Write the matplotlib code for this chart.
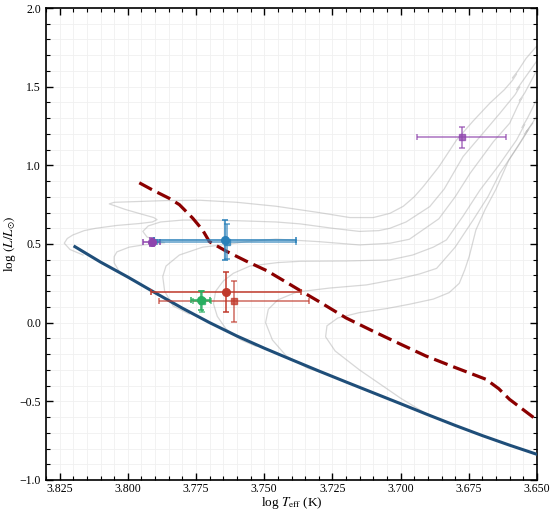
import matplotlib
matplotlib.use("Agg")
import matplotlib.pyplot as plt
from matplotlib.ticker import MultipleLocator

plt.rcParams["font.family"] = "serif"
plt.rcParams["font.serif"] = ["Liberation Serif", "DejaVu Serif"]
plt.rcParams["mathtext.fontset"] = "stix"

# evolutionary tracks (light grey)
track_a_x = [3.8164, 3.8212, 3.8233, 3.8222, 3.8202, 3.8160, 3.8117, 3.8040, 3.7958, 3.7910,
             3.7893, 3.7905, 3.7950, 3.8010, 3.8068, 3.8050, 3.7980, 3.7860, 3.7735, 3.7600,
             3.7457, 3.7300, 3.7186, 3.7100, 3.7039, 3.6990, 3.6950, 3.6917, 3.6860, 3.6795,
             3.6735, 3.6673, 3.6620, 3.6590, 3.6575, 3.6590, 3.6570, 3.6540, 3.6502]
track_a_y = [0.430, 0.465, 0.505, 0.535, 0.557, 0.585, 0.600, 0.618, 0.630, 0.640,
             0.655, 0.668, 0.690, 0.720, 0.755, 0.765, 0.769, 0.776, 0.778, 0.765,
             0.740, 0.700, 0.668, 0.668, 0.695, 0.740, 0.800, 0.865, 0.990, 1.161,
             1.280, 1.395, 1.480, 1.540, 1.580, 1.555, 1.600, 1.680, 1.756]

track_b_x = [3.7985, 3.8030, 3.8050, 3.8050, 3.8040, 3.7995, 3.7940, 3.7897, 3.7865, 3.7890,
             3.7930, 3.7945, 3.7925, 3.7880, 3.7800, 3.7735, 3.7600, 3.7457, 3.7369, 3.7250,
             3.7151, 3.7080, 3.7039, 3.6980, 3.6893, 3.6840, 3.6771, 3.6700, 3.6636, 3.6580,
             3.6563, 3.6575, 3.6555, 3.6502]
track_b_y = [0.270, 0.320, 0.380, 0.420, 0.450, 0.480, 0.495, 0.502, 0.508, 0.520,
             0.545, 0.580, 0.615, 0.640, 0.652, 0.652, 0.648, 0.640, 0.628, 0.600,
             0.580, 0.585, 0.600, 0.640, 0.738, 0.850, 1.056, 1.200, 1.331, 1.450,
             1.500, 1.480, 1.530, 1.660]

track_c_x = [3.7775, 3.7834, 3.7865, 3.7872, 3.7860, 3.7811, 3.7726, 3.7626, 3.7567, 3.7457,
             3.7300, 3.7151, 3.7039, 3.6968, 3.6860, 3.6800, 3.6745, 3.6660, 3.6600, 3.6570,
             3.6555, 3.6565, 3.6545, 3.6502]
track_c_y = [0.055, 0.106, 0.200, 0.293, 0.360, 0.430, 0.480, 0.500, 0.515, 0.531,
             0.515, 0.494, 0.505, 0.530, 0.660, 0.800, 0.950, 1.150, 1.268, 1.380,
             1.430, 1.410, 1.460, 1.600]

track_d_x = [3.7530, 3.7585, 3.7640, 3.7672, 3.7686, 3.7678, 3.7650, 3.7613, 3.7552, 3.7450,
             3.7369, 3.7200, 3.7039, 3.6956, 3.6880, 3.6832, 3.6770, 3.6709, 3.6640, 3.6575,
             3.6545, 3.6555, 3.6535, 3.6502]
track_d_y = [-0.150, -0.110, -0.040, 0.040, 0.120, 0.200, 0.265, 0.314, 0.360, 0.382,
             0.390, 0.392, 0.399, 0.430, 0.480, 0.526, 0.680, 0.843, 1.000, 1.161,
             1.260, 1.240, 1.300, 1.415]

track_e_x = [3.7260, 3.7340, 3.7420, 3.7470, 3.7495, 3.7485, 3.7450, 3.7380, 3.7260, 3.7125,
             3.7002, 3.6930, 3.6868, 3.6800, 3.6734, 3.6680, 3.6636, 3.6570, 3.6530, 3.6540,
             3.6520, 3.6502]
track_e_y = [-0.335, -0.290, -0.210, -0.110, 0.000, 0.085, 0.145, 0.195, 0.220, 0.240,
             0.280, 0.310, 0.345, 0.480, 0.653, 0.800, 0.950, 1.120, 1.230, 1.210,
             1.260, 1.310]

track_f_x = [3.6900, 3.7000, 3.7151, 3.7240, 3.7275, 3.7270, 3.7230, 3.7151, 3.7050, 3.6968,
             3.6880, 3.6822, 3.6785, 3.6765, 3.6748, 3.6724, 3.6690, 3.6650, 3.6603, 3.6560,
             3.6535, 3.6545, 3.6516]
track_f_y = [-0.585, -0.480, -0.300, -0.180, -0.090, -0.020, 0.030, 0.064, 0.090, 0.117,
             0.150, 0.191, 0.250, 0.335, 0.424, 0.589, 0.720, 0.850, 1.034, 1.150,
             1.220, 1.200, 1.268]

tracks = [
    (track_a_x, track_a_y),
    (track_b_x, track_b_y),
    (track_c_x, track_c_y),
    (track_d_x, track_d_y),
    (track_e_x, track_e_y),
    (track_f_x, track_f_y),
]

# solid blue sequence
zams_x = [3.8194, 3.8100, 3.8000, 3.7900, 3.7800, 3.7700, 3.7600, 3.7500, 3.7400, 3.7300,
          3.7200, 3.7100, 3.7000, 3.6900, 3.6800, 3.6700, 3.6600, 3.6500]
zams_y = [0.483, 0.385, 0.290, 0.190, 0.092, 0.000, -0.085, -0.162, -0.235, -0.307,
          -0.377, -0.446, -0.515, -0.585, -0.653, -0.718, -0.779, -0.837]

# dashed dark-red line
edge_x = [3.7958, 3.7909, 3.7848, 3.7811, 3.7762, 3.7726, 3.7701, 3.7640, 3.7567, 3.7490,
          3.7420, 3.7369, 3.7300, 3.7200, 3.7100, 3.7000, 3.6907, 3.6800, 3.6687, 3.6640,
          3.6601, 3.6504]
edge_y = [0.889, 0.843, 0.790, 0.750, 0.664, 0.589, 0.515, 0.455, 0.392, 0.330,
          0.258, 0.205, 0.135, 0.030, -0.055, -0.137, -0.212, -0.285, -0.360, -0.420,
          -0.487, -0.614]

# stars: (colour, marker, alpha, teff, teff_err, lum, lum_err)
stars = [
    ("#8e44ad", "o", 1.0, 3.7913, 0.0030, 0.512, 0.025),
    ("#8e44ad", "s", 0.75, 3.6776, 0.0163, 1.178, 0.065),
    ("#2980b9", "s", 0.75, 3.7638, 0.0255, 0.515, 0.110),
    ("#2980b9", "o", 1.0, 3.7643, 0.0260, 0.525, 0.125),
    ("#c0392b", "o", 1.0, 3.7640, 0.0275, 0.195, 0.128),
    ("#c0392b", "s", 0.75, 3.7610, 0.0275, 0.136, 0.130),
    ("#27ae60", "s", 0.75, 3.7728, 0.0033, 0.136, 0.066),
    ("#27ae60", "o", 1.0, 3.7733, 0.0035, 0.142, 0.060),
]

fig = plt.figure(figsize=(5.52, 5.13), dpi=100)
ax = fig.add_axes([46 / 552, 33 / 513, 491 / 552, 472 / 513])

for tx, ty in tracks:
    ax.plot(tx, ty, color="#a8a8a8", lw=0.9, alpha=0.45, zorder=1)

ax.plot(zams_x, zams_y, color="#1f4e79", lw=2.2, zorder=3)
ax.plot(edge_x, edge_y, color="#8b0000", lw=2.3, ls=(0, (4.5, 1.9)), zorder=3)

for color, marker, alpha, tx, txe, ly, lye in stars:
    ax.errorbar(tx, ly, xerr=txe, yerr=lye, fmt=marker, color=color, ecolor=color,
                alpha=alpha, ms=5.5 if marker == "o" else 5, elinewidth=1.1,
                capsize=2.5, capthick=1.1, zorder=4)

ax.set_xlim(3.830, 3.650)
ax.set_ylim(-1.0, 2.0)

ax.xaxis.set_major_locator(MultipleLocator(0.025))
ax.xaxis.set_minor_locator(MultipleLocator(0.005))
ax.yaxis.set_major_locator(MultipleLocator(0.5))
ax.yaxis.set_minor_locator(MultipleLocator(0.1))

ax.tick_params(which="both", direction="in", top=True, right=True, labelsize=8.5)
ax.tick_params(axis="x", which="major", pad=2.5)
ax.tick_params(which="major", length=5, width=1.0)
ax.tick_params(which="minor", length=3, width=0.8)
ax.grid(which="both", color="#f0f0f0", lw=0.6, zorder=0)
ax.set_axisbelow(True)
for spine in ax.spines.values():
    spine.set_linewidth(1.2)

ax.set_xlabel(r"log $T_{\rm eff}$ (K)", fontsize=9.5, labelpad=0)
ax.set_ylabel(r"log $(L/L_{\odot})$", fontsize=9.5, labelpad=1)

fig.savefig("out.png", dpi=100)
